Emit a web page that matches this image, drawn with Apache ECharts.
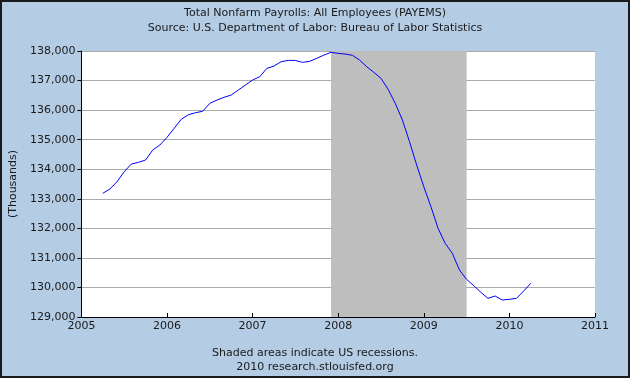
<!DOCTYPE html>
<html>
<head>
<meta charset="utf-8">
<script src="https://cdn.jsdelivr.net/npm/echarts@6/dist/echarts.min.js"></script>
<style>
html,body{margin:0;padding:0;background:#B4CCE4;}
#c{width:630px;height:378px;}
</style>
</head>
<body>
<div id="c"></div>
<script>
var titleText = 'Total Nonfarm Payrolls: All Employees (PAYEMS)';
var subtitleText = 'Source: U.S. Department of Labor: Bureau of Labor Statistics';
var footer1 = 'Shaded areas indicate US recessions.';
var footer2 = '2010 research.stlouisfed.org';
var yAxisName = '(Thousands)';

var months = [
 '2005-04','2005-05','2005-06','2005-07','2005-08','2005-09','2005-10','2005-11','2005-12',
 '2006-01','2006-02','2006-03','2006-04','2006-05','2006-06','2006-07','2006-08','2006-09','2006-10','2006-11','2006-12',
 '2007-01','2007-02','2007-03','2007-04','2007-05','2007-06','2007-07','2007-08','2007-09','2007-10','2007-11','2007-12',
 '2008-01','2008-02','2008-03','2008-04','2008-05','2008-06','2008-07','2008-08','2008-09','2008-10','2008-11','2008-12',
 '2009-01','2009-02','2009-03','2009-04','2009-05','2009-06','2009-07','2009-08','2009-09','2009-10','2009-11','2009-12',
 '2010-01','2010-02','2010-03','2010-04'
];
var payems = [
 133185,133330,133578,133916,134176,134233,134311,134650,134819,
 135078,135383,135688,135845,135912,135960,136229,136341,136432,136510,136679,136849,
 137018,137130,137413,137491,137637,137683,137680,137616,137650,137752,137863,137955,
 137920,137897,137853,137694,137468,137278,137075,136703,136229,135665,134931,134142,
 133409,132732,132000,131492,131154,130590,130274,130060,129835,129632,129710,129575,
 129598,129632,129880,130140
];
var yearTicks = [2005,2006,2007,2008,2009,2010,2011];
var yTicks = [129000,130000,131000,132000,133000,134000,135000,136000,137000,138000];
var recession = ['2007-12','2009-07'];

function dec(s){var p=s.split('-');return +p[0]+(+p[1]-1)/12;}
function commas(v){return String(v).replace(/\B(?=(\d{3})+(?!\d))/g, ',');}

var seriesData = months.map(function(m,i){return [dec(m), payems[i]];});

var chart = echarts.init(document.getElementById('c'), null, {renderer:'canvas'});
var font = 'DejaVu Sans';
chart.setOption({
  backgroundColor:'#B4CCE4',
  animation:false,
  textStyle:{fontFamily:font},
  title:[
    {text:titleText, left:'center', top:3, textStyle:{fontSize:11, fontWeight:'normal', color:'#1a1a1a', fontFamily:font}},
    {text:subtitleText, left:'center', top:18, textStyle:{fontSize:11, fontWeight:'normal', color:'#1a1a1a', fontFamily:font}},
    {text:footer1, left:'center', top:343, textStyle:{fontSize:11, fontWeight:'normal', color:'#1a1a1a', fontFamily:font}},
    {text:footer2, left:'center', top:357, textStyle:{fontSize:11, fontWeight:'normal', color:'#1a1a1a', fontFamily:font}}
  ],
  grid:{left:81, right:35, top:51, bottom:61, show:true, backgroundColor:'#ffffff', borderWidth:0},
  xAxis:{
    type:'value', min:yearTicks[0], max:yearTicks[yearTicks.length-1], interval:1, z:5,
    axisLine:{show:true, lineStyle:{color:'#000', width:1}},
    axisTick:{show:true, inside:true, length:4, lineStyle:{color:'#000'}},
    axisLabel:{color:'#1a1a1a', fontSize:11, margin:4, fontFamily:font, formatter:function(v){return String(v);}},
    splitLine:{show:false}
  },
  yAxis:{
    type:'value', min:yTicks[0], max:yTicks[yTicks.length-1], interval:1000,
    name:yAxisName, nameLocation:'middle', nameGap:61, nameRotate:90,
    nameTextStyle:{fontSize:11, color:'#1a1a1a', fontFamily:font},
    axisLine:{show:true, lineStyle:{color:'#000', width:1}},
    axisTick:{show:true, inside:false, length:4, lineStyle:{color:'#000'}},
    axisLabel:{color:'#1a1a1a', fontSize:11, margin:6, fontFamily:font, formatter:function(v){return commas(v);}},
    splitLine:{show:true, lineStyle:{color:'#aaaaaa', width:1}}
  },
  series:[{
    type:'line', data:seriesData, showSymbol:false, symbol:'none',
    lineStyle:{color:'#0000ff', width:1}, itemStyle:{color:'#0000ff'},
    markArea:{silent:true, itemStyle:{color:'#bebebe', opacity:1},
      data:[[{xAxis:dec(recession[0])},{xAxis:dec(recession[1])}]]}
  }],
  graphic:[{type:'rect', shape:{x:1, y:1, width:628, height:376}, style:{fill:null, stroke:'#1a1a1a', lineWidth:2}, silent:true, z:100}]
});
</script>
</body>
</html>
